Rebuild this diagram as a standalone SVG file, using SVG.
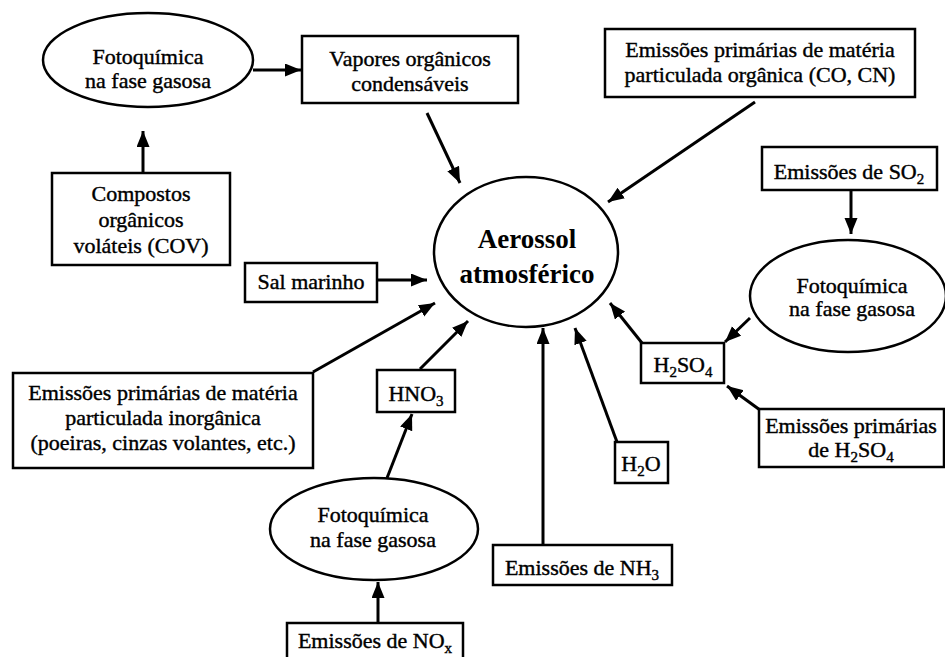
<svg xmlns="http://www.w3.org/2000/svg" width="945" height="657" viewBox="0 0 945 657">
<style>
.bx{fill:#fff;stroke:#000;stroke-width:2.5}
.el{fill:#fff;stroke:#000;stroke-width:2.5}
.t{font-family:"Liberation Serif","Times New Roman",serif;font-size:22px;fill:#000;stroke:#000;stroke-width:0.4;text-anchor:middle}
.tb{font-family:"Liberation Serif","Times New Roman",serif;font-size:27px;font-weight:bold;fill:#000;text-anchor:middle}
.c{stroke:#000;stroke-width:3;fill:none;marker-end:url(#ah)}
</style>
<defs>
<marker id="ah" markerUnits="userSpaceOnUse" markerWidth="17" markerHeight="14" refX="16" refY="6.5" orient="auto">
<path d="M0,0 L16,6.5 L0,13 z" fill="#000"/>
</marker>
</defs>
<rect width="945" height="657" fill="#fff"/>
<g id="connectors">
<line class="c" x1="253" y1="70" x2="301" y2="70"/>
<line class="c" x1="143" y1="173" x2="143" y2="131"/>
<line class="c" x1="427" y1="113" x2="460" y2="183"/>
<line class="c" x1="755" y1="102" x2="608" y2="202"/>
<line class="c" x1="851" y1="190" x2="851" y2="234"/>
<line class="c" x1="377" y1="280" x2="427" y2="280"/>
<line class="c" x1="313" y1="372" x2="435" y2="303"/>
<line class="c" x1="420" y1="369" x2="468" y2="321"/>
<line class="c" x1="387" y1="478" x2="412" y2="414"/>
<line class="c" x1="378" y1="623" x2="378" y2="582"/>
<line class="c" x1="543" y1="545" x2="543" y2="328"/>
<line class="c" x1="617" y1="442" x2="575" y2="328"/>
<line class="c" x1="642" y1="343" x2="610" y2="303"/>
<line class="c" x1="750" y1="318" x2="725" y2="342"/>
<line class="c" x1="760" y1="410" x2="727" y2="386"/>
</g>
<g id="foto1">
<ellipse class="el" cx="148" cy="60" rx="105" ry="47"/>
<text class="t" x="148" y="64">Fotoquímica</text>
<text class="t" x="148" y="88">na fase gasosa</text>
</g>
<g id="vapores">
<rect class="bx" x="302" y="36" width="216" height="67"/>
<text class="t" x="410" y="66">Vapores orgânicos</text>
<text class="t" x="410" y="91">condensáveis</text>
</g>
<g id="cov">
<rect class="bx" x="52" y="173" width="178" height="92"/>
<text class="t" x="141" y="201">Compostos</text>
<text class="t" x="141" y="227">orgânicos</text>
<text class="t" x="141" y="253">voláteis (COV)</text>
</g>
<g id="organica">
<rect class="bx" x="605" y="29" width="310" height="68"/>
<text class="t" x="760" y="57">Emissões primárias de matéria</text>
<text class="t" x="760" y="82">particulada orgânica (CO, CN)</text>
</g>
<g id="so2">
<rect class="bx" x="762" y="147" width="175" height="43"/>
<text class="t" x="849" y="179">Emissões de SO<tspan font-size="15" dy="5">2</tspan></text>
</g>
<g id="aerossol">
<ellipse class="el" cx="526" cy="252" rx="92" ry="75"/>
<text class="tb" x="527" y="248">Aerossol</text>
<text class="tb" x="527" y="283">atmosférico</text>
</g>
<g id="sal">
<rect class="bx" x="245" y="263" width="132" height="39"/>
<text class="t" x="311" y="289">Sal marinho</text>
</g>
<g id="foto3">
<ellipse class="el" cx="848" cy="296" rx="98" ry="56"/>
<text class="t" x="852" y="293">Fotoquímica</text>
<text class="t" x="852" y="316">na fase gasosa</text>
</g>
<g id="h2so4">
<rect class="bx" x="641" y="343" width="83" height="40"/>
<text class="t" x="683" y="372">H<tspan font-size="15" dy="5">2</tspan><tspan dy="-5">SO</tspan><tspan font-size="15" dy="5">4</tspan></text>
</g>
<g id="h2so4prim">
<rect class="bx" x="759" y="409" width="185" height="58"/>
<text class="t" x="851" y="433">Emissões primárias</text>
<text class="t" x="851" y="457">de H<tspan font-size="15" dy="5">2</tspan><tspan dy="-5">SO</tspan><tspan font-size="15" dy="5">4</tspan></text>
</g>
<g id="inorganica">
<rect class="bx" x="13" y="373" width="300" height="95"/>
<text class="t" x="163" y="400">Emissões primárias de matéria</text>
<text class="t" x="163" y="425">particulada inorgânica</text>
<text class="t" x="163" y="450">(poeiras, cinzas volantes, etc.)</text>
</g>
<g id="hno3">
<rect class="bx" x="377" y="370" width="78" height="42"/>
<text class="t" x="416" y="401">HNO<tspan font-size="15" dy="5">3</tspan></text>
</g>
<g id="h2o">
<rect class="bx" x="615" y="442" width="53" height="41"/>
<text class="t" x="641" y="471">H<tspan font-size="15" dy="5">2</tspan><tspan dy="-5">O</tspan></text>
</g>
<g id="foto4">
<ellipse class="el" cx="374" cy="529" rx="104" ry="51"/>
<text class="t" x="373" y="522">Fotoquímica</text>
<text class="t" x="373" y="547">na fase gasosa</text>
</g>
<g id="nh3">
<rect class="bx" x="493" y="545" width="179" height="40"/>
<text class="t" x="582" y="575">Emissões de NH<tspan font-size="15" dy="5">3</tspan></text>
</g>
<g id="nox">
<rect class="bx" x="287" y="623" width="176" height="45"/>
<text class="t" x="375" y="648">Emissões de NO<tspan font-size="15" dy="5">x</tspan></text>
</g>
</svg>
